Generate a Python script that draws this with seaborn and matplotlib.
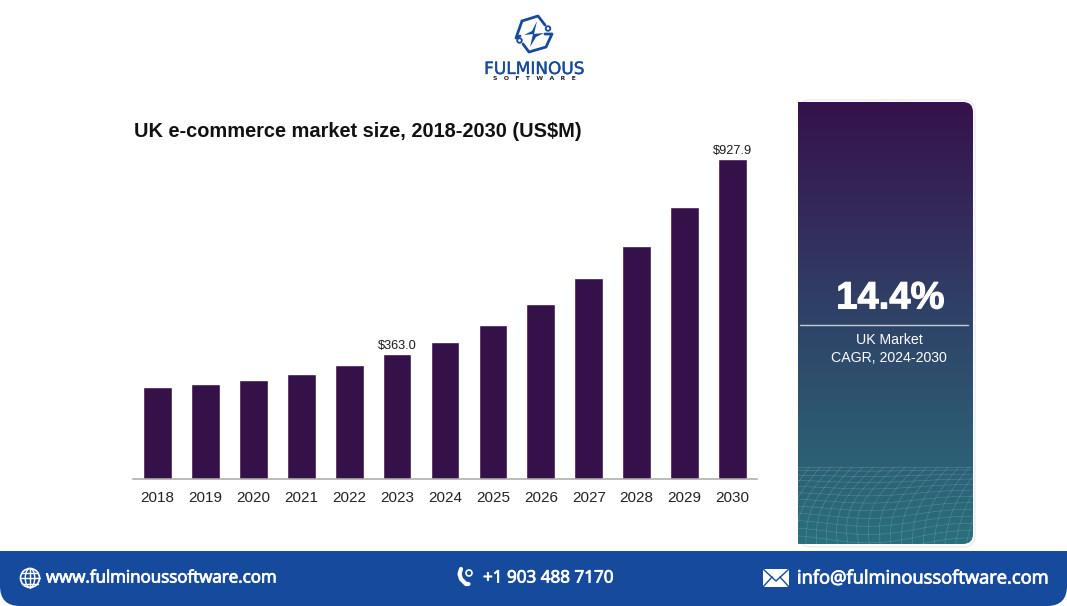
import numpy as np
import pandas as pd
import seaborn as sns
import matplotlib
matplotlib.use("Agg")
import matplotlib.pyplot as plt
import matplotlib.patheffects as pe
from matplotlib.patches import FancyBboxPatch, Polygon, Rectangle, Circle, Ellipse, PathPatch
from matplotlib.path import Path
from matplotlib.colors import LinearSegmentedColormap

years = ["2018", "2019", "2020", "2021", "2022", "2023", "2024",
         "2025", "2026", "2027", "2028", "2029", "2030"]
market_size = [266, 276, 287, 305, 332, 363.0, 398.5, 448, 506, 582, 675, 788, 927.9]
labelled = {"2023": "$363.0", "2030": "$927.9"}
title = "UK e-commerce market size, 2018-2030 (US$M)"

BAR = "#35114a"
BLUE = "#164a9c"
W, H = 1067, 606

sns.set_theme(style="white")
plt.rcParams["font.family"] = ["Liberation Sans", "DejaVu Sans"]

fig = plt.figure(figsize=(W / 100, H / 100), dpi=100, facecolor="white")

# Full-figure overlay in pixel coordinates for decorations
bg = fig.add_axes([0, 0, 1, 1], zorder=0)
bg.set_xlim(0, W)
bg.set_ylim(H, 0)
bg.axis("off")

# Chart axes: baseline at y=479, top of scale at y=160
left, right, base, top = 133, 757, 479, 160
ax = fig.add_axes([left / W, 1 - base / H, (right - left) / W, (base - top + 1) / H], zorder=2)
df = pd.DataFrame({"year": years, "size": market_size})
sns.barplot(data=df, x="year", y="size", color=BAR, saturation=1, width=0.6, ax=ax)
ax.set_xlim(-0.51, 12.51)
ax.set_ylim(0, 927.9)
ax.patch.set_alpha(0)
ax.set_xlabel("")
ax.set_ylabel("")
ax.set_yticks([])
for s in ("top", "left", "right"):
    ax.spines[s].set_visible(False)
ax.spines["bottom"].set_color("#a8a8a8")
ax.spines["bottom"].set_linewidth(1.1)
ax.tick_params(axis="x", length=0, pad=9, labelsize=11, labelcolor="#222222")
for i, y in enumerate(years):
    if y in labelled:
        ax.text(i, market_size[i] + 6, labelled[y], ha="center", va="bottom",
                fontsize=9.2, color="#1a1a1a", clip_on=False)

bg.text(134, 131.5, title, fontsize=14.4, fontweight="bold", color="#111111",
        ha="left", va="center")

# Side panel with vertical gradient and rounded right corners
px0, px1, py0, py1 = 798, 973, 102, 544
cmap = LinearSegmentedColormap.from_list(
    "panel", ["#35124b", "#342a5a", "#2f4468", "#2d5a72", "#2b6f7c"])
grad = np.linspace(0, 1, 256).reshape(-1, 1)
bg.add_patch(FancyBboxPatch((px0 + 1, py0 - 2), px1 - px0 + 1, py1 - py0 + 5,
                            boxstyle="round,pad=0,rounding_size=12",
                            fc="white", ec="#ececec", lw=1, zorder=1))
im = bg.imshow(grad, cmap=cmap, extent=(px0, px1, py1, py0), aspect="auto", zorder=2)
clip = Path([(px0, py0), (px1 - 10, py0), (px1, py0), (px1, py0 + 10), (px1, py1 - 10),
             (px1, py1), (px1 - 10, py1), (px0, py1), (px0, py0)],
            [Path.MOVETO, Path.LINETO, Path.CURVE3, Path.CURVE3, Path.LINETO,
             Path.CURVE3, Path.CURVE3, Path.LINETO, Path.CLOSEPOLY])
clip_patch = PathPatch(clip, transform=bg.transData, fc="none", ec="none")
bg.add_patch(clip_patch)
im.set_clip_path(clip_patch)
bg.set_xlim(0, W)
bg.set_ylim(H, 0)

# Decorative wire mesh at the foot of the panel
u = np.linspace(0, 1, 60)
for k in np.linspace(0, 1, 13):
    yy = 467 + 77 * k ** 1.25 + 5 * k * np.sin(3.4 * u + 0.6) - 3 * k * np.cos(7 * u)
    ln, = bg.plot(px0 + 175 * u, yy, color="#9fd4d8", lw=0.4, alpha=0.32, zorder=3)
    ln.set_clip_path(clip_patch)
for k in np.linspace(-0.25, 1.15, 24):
    xx = px0 + 175 * k + 34 * (1 - u) - 16 * np.sin(3 * u) * (1 - abs(k - 0.35))
    yy = 467 + 77 * u
    ln, = bg.plot(xx, yy, color="#9fd4d8", lw=0.4, alpha=0.32, zorder=3)
    ln.set_clip_path(clip_patch)

big = bg.text(890.5, 298.5, "14.4%", fontsize=27.5, fontweight="bold", color="white",
              ha="center", va="center", zorder=4)
big.set_path_effects([pe.withStroke(linewidth=0.8, foreground="white")])
bg.plot([800, 968], [325, 325], color="#c9ccd6", lw=1, zorder=4)
bg.text(889, 339.5, "UK Market", fontsize=10.2, color="white", ha="center", va="center", zorder=4)
bg.text(889, 358.5, "CAGR, 2024-2030", fontsize=10.2, color="white", ha="center", va="center", zorder=4)

# Logo
bg.plot([522, 538, 545], [21, 16, 25], color=BLUE, lw=2)
bg.plot([522, 516, 520], [21, 38, 36], color=BLUE, lw=2)
bg.plot([545, 552, 546, 529, 523], [34, 34, 47, 52, 44], color=BLUE, lw=2)
bg.add_patch(Circle((548, 28.5), 2.3, fc="white", ec=BLUE, lw=1.3, zorder=3))
bg.add_patch(Circle((519.5, 40.5), 2.3, fc="white", ec=BLUE, lw=1.3, zorder=3))
bg.add_patch(Polygon([(537, 21), (534, 34), (524, 35), (532, 31)], fc=BLUE, ec="none"))
bg.add_patch(Polygon([(530, 47), (533, 34), (544, 33), (536, 37)], fc=BLUE, ec="none"))
logo = bg.text(534, 69, "FULMINOUS", fontsize=12.2, color=BLUE, fontfamily="DejaVu Sans",
               ha="center", va="center")
logo.set_path_effects([pe.withStroke(linewidth=0.25, foreground=BLUE)])
bg.text(534, 79, "S   O   F   T   W   A   R   E", fontsize=4.4, color="#222222", fontweight="bold",
        fontfamily="DejaVu Sans", ha="center", va="center")

# Footer band with rounded bottom corners
foot = Path([(0, 551), (W, 551), (W, 586), (W, 606), (W - 20, 606), (20, 606), (0, 606), (0, 586), (0, 551)],
            [Path.MOVETO, Path.LINETO, Path.LINETO, Path.CURVE3, Path.CURVE3,
             Path.LINETO, Path.CURVE3, Path.CURVE3, Path.CLOSEPOLY])
bg.add_patch(PathPatch(foot, fc=BLUE, ec="none", zorder=2))

foot_font = ["Open Sans", "DejaVu Sans"]
for x, s, fs in [(46, "www.fulminoussoftware.com", 12.2), (483, "+1 903 488 7170", 12.3),
                 (797, "info@fulminoussoftware.com", 13.2)]:
    t = bg.text(x, 578.5, s, fontsize=fs, color="white", family=foot_font,
                ha="left", va="center", zorder=4)
    t.set_path_effects([pe.withStroke(linewidth=0.6, foreground="white")])

# Globe icon
bg.add_patch(Circle((30, 578), 9.5, fc="none", ec="white", lw=1.2, zorder=4))
bg.add_patch(Ellipse((30, 578), 9.5, 19, fc="none", ec="white", lw=1, zorder=4))
for yy, half in [(578, 9.5), (572.5, 7.8), (583.5, 7.8)]:
    bg.plot([30 - half, 30 + half], [yy, yy], color="white", lw=1, zorder=4)
bg.plot([30, 30], [568.5, 587.5], color="white", lw=1, zorder=4)

# Phone icon
bg.plot([461, 459.5, 461, 466, 468.5], [569, 574, 579, 584, 584], color="white", lw=3,
        solid_capstyle="round", zorder=4)
bg.add_patch(Circle((469, 573), 3, fc="none", ec="white", lw=1.2, zorder=4))

# Mail icon
bg.add_patch(Rectangle((763, 569), 26, 18, fc="white", ec="none", zorder=4))
bg.plot([763, 776, 789], [569, 581, 569], color=BLUE, lw=1, zorder=5)
bg.plot([763, 772], [587, 577], color=BLUE, lw=1, zorder=5)
bg.plot([789, 780], [587, 577], color=BLUE, lw=1, zorder=5)

fig.savefig("out.png", dpi=100, facecolor="white")
